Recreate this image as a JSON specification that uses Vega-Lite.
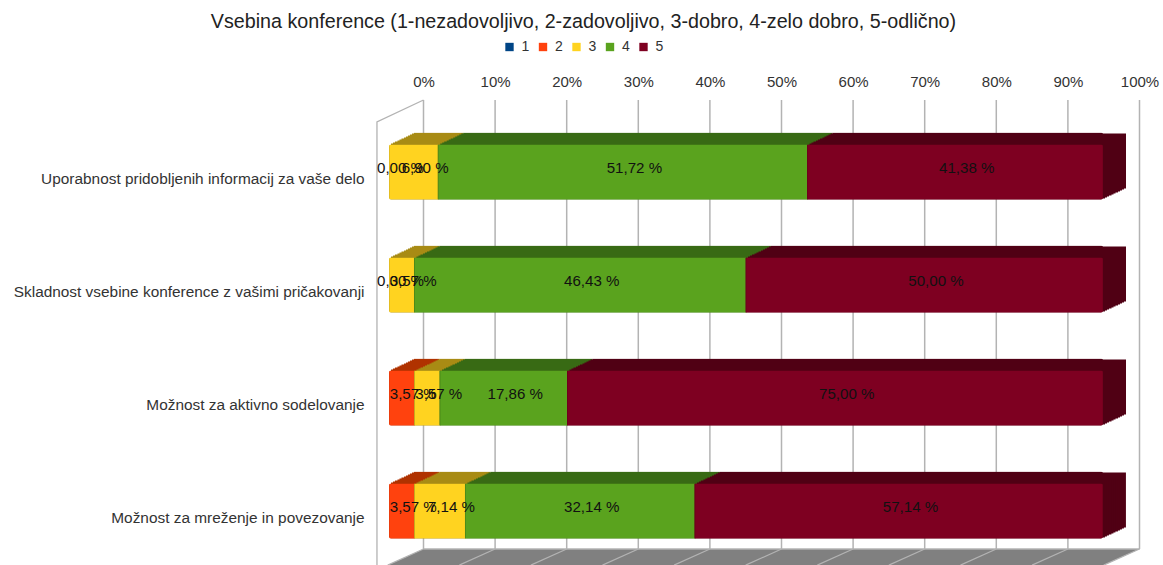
{
"$schema":"https://vega.github.io/schema/vega-lite/v6.json",
"autosize":{"type":"none"},
"padding":{"left":388,"top":100,"right":60,"bottom":0},
"width":715,"height":465,
"background":"white",
"config":{"font":"Liberation Sans","view":{"stroke":null}},
"title":{"text":"Vsebina konference (1-nezadovoljivo, 2-zadovoljivo, 3-dobro, 4-zelo dobro, 5-odlično)","fontSize":19.7,"fontWeight":"normal","color":"#222222","anchor":"middle","dx":-162,"offset":8,"font":"Liberation Sans"},
"datasets":{
"ticks":[{"t":0,"t2":-5,"y0":0,"y1":1,"yf":1.036},{"t":10,"t2":5,"y0":0,"y1":1,"yf":1.036},{"t":20,"t2":15,"y0":0,"y1":1,"yf":1.036},{"t":30,"t2":25,"y0":0,"y1":1,"yf":1.036},{"t":40,"t2":35,"y0":0,"y1":1,"yf":1.036},{"t":50,"t2":45,"y0":0,"y1":1,"yf":1.036},{"t":60,"t2":55,"y0":0,"y1":1,"yf":1.036},{"t":70,"t2":65,"y0":0,"y1":1,"yf":1.036},{"t":80,"t2":75,"y0":0,"y1":1,"yf":1.036},{"t":90,"t2":85,"y0":0,"y1":1,"yf":1.036},{"t":100,"t2":95,"y0":0,"y1":1,"yf":1.036}],
"bars":[
{"q":"Uporabnost pridobljenih informacij za vaše delo","s":"2","v":0,"label":"0,00 %"},
{"q":"Uporabnost pridobljenih informacij za vaše delo","s":"3","v":6.9,"label":"6,90 %"},
{"q":"Uporabnost pridobljenih informacij za vaše delo","s":"4","v":51.72,"label":"51,72 %"},
{"q":"Uporabnost pridobljenih informacij za vaše delo","s":"5","v":41.38,"label":"41,38 %"},
{"q":"Skladnost vsebine konference z vašimi pričakovanji","s":"2","v":0,"label":"0,00 %"},
{"q":"Skladnost vsebine konference z vašimi pričakovanji","s":"3","v":3.57,"label":"3,57 %"},
{"q":"Skladnost vsebine konference z vašimi pričakovanji","s":"4","v":46.43,"label":"46,43 %"},
{"q":"Skladnost vsebine konference z vašimi pričakovanji","s":"5","v":50,"label":"50,00 %"},
{"q":"Možnost za aktivno sodelovanje","s":"2","v":3.57,"label":"3,57 %"},
{"q":"Možnost za aktivno sodelovanje","s":"3","v":3.57,"label":"3,57 %"},
{"q":"Možnost za aktivno sodelovanje","s":"4","v":17.86,"label":"17,86 %"},
{"q":"Možnost za aktivno sodelovanje","s":"5","v":75,"label":"75,00 %"},
{"q":"Možnost za mreženje in povezovanje","s":"2","v":3.57,"label":"3,57 %"},
{"q":"Možnost za mreženje in povezovanje","s":"3","v":7.14,"label":"7,14 %"},
{"q":"Možnost za mreženje in povezovanje","s":"4","v":32.14,"label":"32,14 %"},
{"q":"Možnost za mreženje in povezovanje","s":"5","v":57.14,"label":"57,14 %"}
],
"floor":[{"x":-5,"a":1.036,"b":1.036},{"x":0,"a":1,"b":1.036},{"x":95,"a":1,"b":1.036},{"x":100,"a":1,"b":1}],
"wall":[{"x":0,"y":0,"o":1},{"x":-6.5,"y":0.049,"o":2},{"x":-6.5,"y":1.036,"o":3}],
"base":[{"x":0,"y":1},{"x":100,"y":1}]
},
"data":{"name":"bars"},
"resolve":{"scale":{"x":"independent","y":"independent"},"axis":{"x":"independent","y":"independent"}},
"layer":[
{"layer":[
{"data":{"name":"floor"},"mark":{"type":"area","color":"#808080","clip":false,"interpolate":"linear"},
 "encoding":{"x":{"field":"x","type":"quantitative","scale":{"domain":[0,100],"range":[35.5,751.5]},"axis":null},
 "y":{"field":"a","type":"quantitative","scale":{"domain":[0,1],"range":[0,449]},"axis":null},"y2":{"field":"b"}}},
{"data":{"name":"ticks"},"mark":{"type":"rule","color":"#b3b3b3","strokeWidth":1.2},
 "encoding":{"x":{"field":"t","type":"quantitative"},"x2":{"field":"t2"},
 "y":{"field":"y1","type":"quantitative"},"y2":{"field":"yf"}}},
{"data":{"name":"base"},"mark":{"type":"line","color":"#b3b3b3","strokeWidth":1.5},
 "encoding":{"x":{"field":"x","type":"quantitative"},"y":{"field":"y","type":"quantitative"}}},
{"data":{"name":"wall"},"mark":{"type":"line","color":"#b3b3b3","strokeWidth":1.3},
 "encoding":{"x":{"field":"x","type":"quantitative"},"y":{"field":"y","type":"quantitative"},"order":{"field":"o"}}}
]},
{"data":{"name":"ticks"},"mark":{"type":"rule","color":"#b3b3b3","strokeWidth":1.5},
 "encoding":{"x":{"field":"t","type":"quantitative","scale":{"domain":[0,100],"range":[35.5,751.5]},"axis":{"orient":"top","values":[0,10,20,30,40,50,60,70,80,90,100],"labelExpr":"datum.value + '%'","domain":false,"ticks":false,"grid":false,"title":null,"labelFontSize":15,"labelColor":"#333333","labelPadding":11,"labelFont":"Liberation Sans","labelFlush":false,"labelOverlap":false}},
 "y":{"field":"y0","type":"quantitative","scale":{"domain":[0,1],"range":[0,449]},"axis":null},"y2":{"field":"y1"}}},
{"encoding":{
 "x":{"field":"v","type":"quantitative","stack":"zero","scale":{"domain":[0,100],"range":[1,715]},"axis":null},
 "y":{"field":"q","type":"nominal","sort":null,"scale":{"domain":["Uporabnost pridobljenih informacij za vaše delo","Skladnost vsebine konference z vašimi pričakovanji","Možnost za aktivno sodelovanje","Možnost za mreženje in povezovanje"],"range":[15.5,467.5],"paddingInner":0.513,"paddingOuter":0.2565},
  "axis":{"title":null,"orient":"left","domain":false,"ticks":false,"grid":false,"labelPadding":24,"labelFontSize":15.4,"labelColor":"#333333","labelOffset":6.5,"labelLimit":400,"labelFont":"Liberation Sans"}},
 "detail":{"field":"s"},
 "order":{"field":"s"}
},
"layer":[
{"mark":{"type":"bar","xOffset":25,"x2Offset":25,"yOffset":-12,"y2Offset":-12,"cornerRadius":2},"encoding":{"fill":{"field":"s","type":"nominal","legend":null,"scale":{"domain":["2","3","4","5"],"range":["#b03200","#a88b14","#386a14","#500014"]}}}},
{"mark":{"type":"bar","xOffset":23,"x2Offset":23,"yOffset":-11,"y2Offset":-11},"encoding":{"fill":{"field":"s","type":"nominal","legend":null}}},
{"mark":{"type":"bar","xOffset":21,"x2Offset":21,"yOffset":-10,"y2Offset":-10},"encoding":{"fill":{"field":"s","type":"nominal","legend":null}}},
{"mark":{"type":"bar","xOffset":19,"x2Offset":19,"yOffset":-9,"y2Offset":-9},"encoding":{"fill":{"field":"s","type":"nominal","legend":null}}},
{"mark":{"type":"bar","xOffset":17,"x2Offset":17,"yOffset":-8,"y2Offset":-8},"encoding":{"fill":{"field":"s","type":"nominal","legend":null}}},
{"mark":{"type":"bar","xOffset":15,"x2Offset":15,"yOffset":-7,"y2Offset":-7},"encoding":{"fill":{"field":"s","type":"nominal","legend":null}}},
{"mark":{"type":"bar","xOffset":12.5,"x2Offset":12.5,"yOffset":-6,"y2Offset":-6},"encoding":{"fill":{"field":"s","type":"nominal","legend":null}}},
{"mark":{"type":"bar","xOffset":10.5,"x2Offset":10.5,"yOffset":-5,"y2Offset":-5},"encoding":{"fill":{"field":"s","type":"nominal","legend":null}}},
{"mark":{"type":"bar","xOffset":8.5,"x2Offset":8.5,"yOffset":-4,"y2Offset":-4},"encoding":{"fill":{"field":"s","type":"nominal","legend":null}}},
{"mark":{"type":"bar","xOffset":6,"x2Offset":6,"yOffset":-3,"y2Offset":-3},"encoding":{"fill":{"field":"s","type":"nominal","legend":null}}},
{"mark":{"type":"bar","xOffset":4,"x2Offset":4,"yOffset":-2,"y2Offset":-2},"encoding":{"fill":{"field":"s","type":"nominal","legend":null}}},
{"mark":{"type":"bar","xOffset":2,"x2Offset":2,"yOffset":-1,"y2Offset":-1},"encoding":{"fill":{"field":"s","type":"nominal","legend":null}}},
{"transform":[{"filter":{"field":"v","gt":0}}],"mark":{"type":"bar","cornerRadius":2,"strokeWidth":1,"strokeOpacity":1},
 "encoding":{"color":{"field":"s","type":"nominal","scale":{"domain":["1","2","3","4","5"],"range":["#004586","#ff420e","#ffd320","#5aa31e","#7e0021"]},
  "legend":{"title":null,"orient":"none","legendX":114.5,"legendY":-60,"direction":"horizontal","columns":5,"symbolType":"square","symbolSize":70,"symbolStrokeWidth":0,"labelFontSize":14,"labelColor":"#333333","columnPadding":6.5,"labelOffset":5,"labelFont":"Liberation Sans"}},
 "stroke":{"field":"s","type":"nominal","legend":null,"scale":{"domain":["5","4","3","2"],"range":["#6e001c","#4c8a1a","#c9a820","#d8380c"]}}}},
{"mark":{"type":"text","dx":11.5,"dy":-4,"fontSize":15.1,"color":"#111111","font":"Liberation Sans"},
 "encoding":{"x":{"field":"v","type":"quantitative","stack":"zero","bandPosition":0.5,"scale":{"domain":[0,100],"range":[1,715]},"axis":null},"text":{"field":"label"}}}
]}
]
}
